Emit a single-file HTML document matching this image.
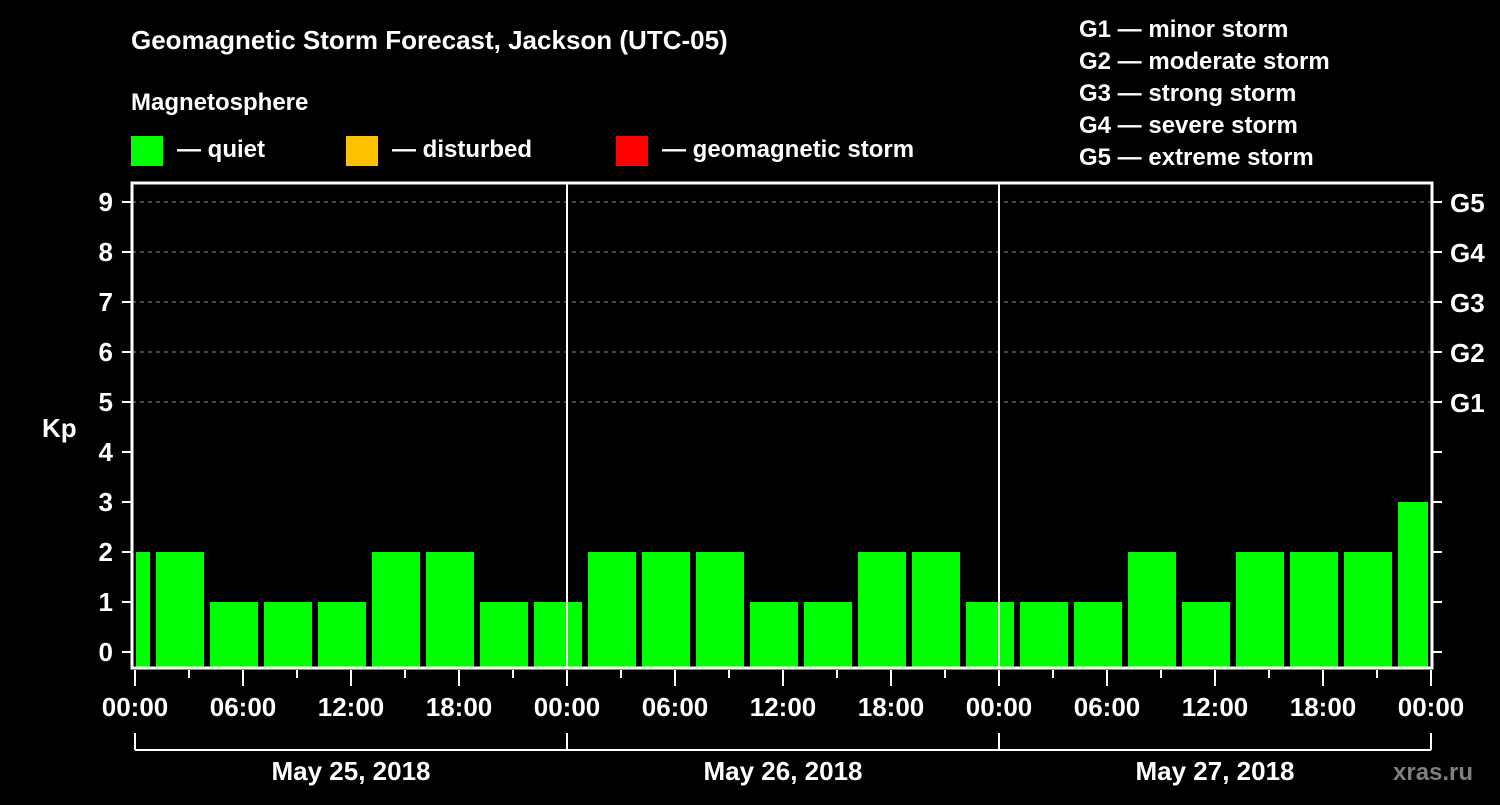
<!DOCTYPE html>
<html><head><meta charset="utf-8"><style>
body{margin:0;background:#000;}
svg text{font-family:"Liberation Sans",Arial,sans-serif;font-weight:bold;fill:#fff;}
</style></head><body>
<svg width="1500" height="800" xmlns="http://www.w3.org/2000/svg">
<rect width="1500" height="800" fill="#000"/>
<text x="131" y="49" font-size="26">Geomagnetic Storm Forecast, Jackson (UTC-05)</text>
<text x="131" y="110" font-size="24">Magnetosphere</text>
<g>
<rect x="131" y="136" width="32" height="30" fill="#00ff00"/>
<text x="177" y="157" font-size="24">— quiet</text>
<rect x="346" y="136" width="32" height="30" fill="#ffc000"/>
<text x="392" y="157" font-size="24">— disturbed</text>
<rect x="616" y="136" width="32" height="30" fill="#ff0000"/>
<text x="662" y="157" font-size="24">— geomagnetic storm</text>
</g>
<g font-size="24">
<text x="1079" y="37">G1 — minor storm</text>
<text x="1079" y="69">G2 — moderate storm</text>
<text x="1079" y="101">G3 — strong storm</text>
<text x="1079" y="133">G4 — severe storm</text>
<text x="1079" y="165">G5 — extreme storm</text>
</g>
<text x="42" y="437" font-size="26">Kp</text>
<g id="chart"></g>
<text x="1393" y="780" font-size="24" fill="#888" style="fill:#7f7f7f">xras.ru</text>
</svg>
<script>
const kpValues=[2,2,1,1,1,2,2,1,1,2,2,2,1,1,2,2,1,1,1,2,1,2,2,2,3];
const slotStartHours=[-2,1,4,7,10,13,16,19,22,25,28,31,34,37,40,43,46,49,52,55,58,61,64,67,70];
const dayLabels=["May 25, 2018","May 26, 2018","May 27, 2018"];
const hourLabels=["00:00","06:00","12:00","18:00"];
const gLabels=["G1","G2","G3","G4","G5"];
const NS="http://www.w3.org/2000/svg";
const g=document.getElementById('chart');
const X=h=>135+h*18, Y=v=>652-v*50;
const L=136,R=1431,T=183,B=668;
function mk(t,a){const e=document.createElementNS(NS,t);for(const k in a)e.setAttribute(k,a[k]);g.appendChild(e);return e;}
// gridlines
for(let v=5;v<=9;v++){const e=mk('line',{x1:132,x2:1432,y1:Y(v),y2:Y(v),stroke:'#888','stroke-dasharray':'4,4','stroke-width':1});

}
// bars
kpValues.forEach((v,i)=>{const s=slotStartHours[i];let x1=Math.max(X(s)+3,L),x2=Math.min(X(s+3)-3,R-3);
const e=mk('rect',{x:x1,y:Y(v),width:x2-x1,height:B-Y(v),fill:v>=5?'#ff0000':(v>=4?'#ffc000':'#00ff00')});

});
// frame
const fr=mk('rect',{x:132,y:T,width:1300,height:B-T,fill:'none',stroke:'#fff','stroke-width':3});


[1,2].forEach(d=>{const e=mk('line',{x1:X(24*d),x2:X(24*d),y1:T,y2:B,stroke:'#fff','stroke-width':2});

});
// y ticks
for(let v=0;v<=9;v++){
mk('line',{x1:122,x2:131,y1:Y(v),y2:Y(v),stroke:'#fff','stroke-width':2});
mk('line',{x1:1433,x2:1442,y1:Y(v),y2:Y(v),stroke:'#fff','stroke-width':2});
const t=mk('text',{x:113,y:Y(v)+9,'font-size':26,'text-anchor':'end'});t.textContent=v;

}
gLabels.forEach((s,i)=>{const t=mk('text',{x:1450,y:Y(i+5)+10,'font-size':26});t.textContent=s;

});
// x ticks
for(let h=0;h<=72;h+=3){const long=h%6==0;mk('line',{x1:X(h),x2:X(h),y1:670,y2:long?686:678,stroke:'#fff','stroke-width':2});
if(long){const t=mk('text',{x:X(h),y:716,'font-size':26,'text-anchor':'middle'});t.textContent=hourLabels[(h/6)%4];

}}
// day brackets
mk('line',{x1:X(0),x2:X(72),y1:750,y2:750,stroke:'#fff','stroke-width':2});
for(let d=0;d<=3;d++)mk('line',{x1:X(24*d),x2:X(24*d),y1:733,y2:750,stroke:'#fff','stroke-width':2});
dayLabels.forEach((s,d)=>{const t=mk('text',{x:X(24*d+12),y:780,'font-size':26,'text-anchor':'middle'});t.textContent=s;

});
</script>
</body></html>
